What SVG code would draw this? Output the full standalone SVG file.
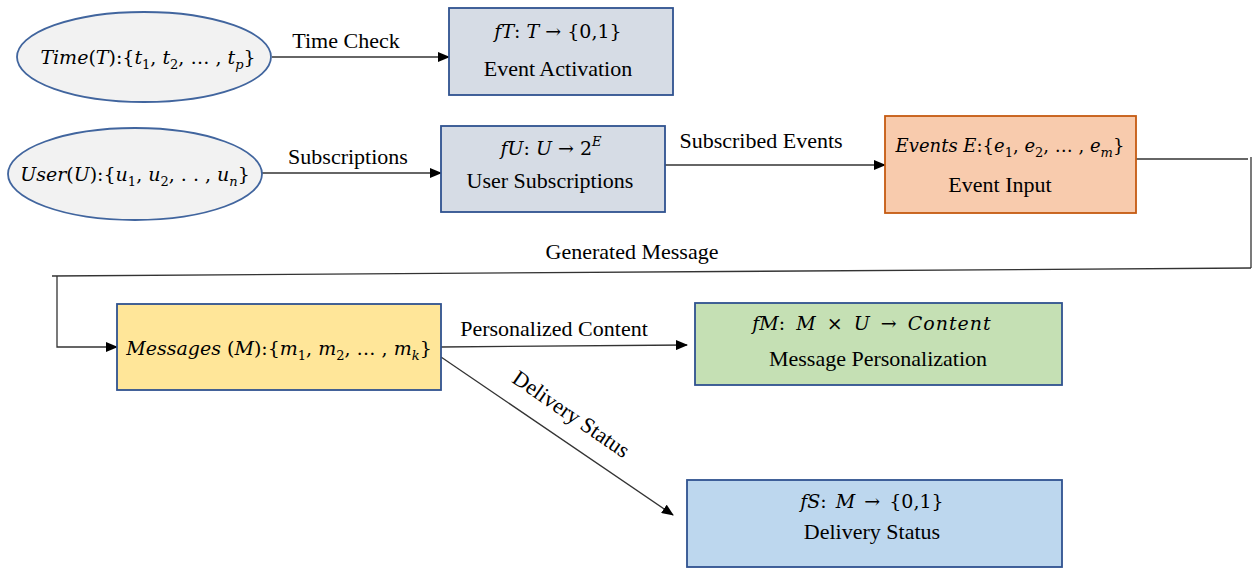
<svg xmlns="http://www.w3.org/2000/svg" width="1253" height="571" viewBox="0 0 1253 571">
<defs>
<marker id="arr" markerWidth="12" markerHeight="10" refX="11" refY="5" orient="auto" markerUnits="userSpaceOnUse">
<path d="M0,0 L12,5 L0,10 Z" fill="#000"/>
</marker>
<style>
.lbl{font-family:"Liberation Serif","Times New Roman",serif;font-size:22px;fill:#000;}
.math{font-family:"DejaVu Serif",serif;font-size:19px;fill:#000;}
.it{font-style:italic;}
.sub{font-size:13px;}
.edge{fill:none;stroke:#333;stroke-width:1.3;}
.ell{fill:#f2f2f2;stroke:#41659e;stroke-width:1.8;}
.bx{stroke:#2f528f;stroke-width:1.8;}
</style>
</defs>
<rect width="1253" height="571" fill="#fff"/>

<g id="connectors">
<line class="edge" x1="272" y1="57" x2="449" y2="57" marker-end="url(#arr)"/>
<text class="lbl" x="346" y="48" text-anchor="middle">Time Check</text>
<line class="edge" x1="262" y1="173" x2="441" y2="173" marker-end="url(#arr)"/>
<text class="lbl" x="348" y="164" text-anchor="middle">Subscriptions</text>
<line class="edge" x1="665" y1="165" x2="885" y2="165" marker-end="url(#arr)"/>
<text class="lbl" x="761" y="148" text-anchor="middle">Subscribed Events</text>
<polyline class="edge" points="1136,159 1248,159"/>
<line class="edge" x1="1251" y1="157" x2="1251" y2="268"/>
<line class="edge" x1="1251" y1="268" x2="52" y2="276"/>
<text class="lbl" x="632" y="259" text-anchor="middle">Generated Message</text>
<polyline class="edge" points="57,276 57,347 117,347" marker-end="url(#arr)"/>
<line class="edge" x1="441" y1="347" x2="687" y2="345" marker-end="url(#arr)"/>
<text class="lbl" x="554" y="336" text-anchor="middle">Personalized Content</text>
<line class="edge" x1="441" y1="357" x2="673" y2="515" marker-end="url(#arr)"/>
<text class="lbl" x="0" y="0" text-anchor="middle" transform="translate(567,420) rotate(34.4)">Delivery Status</text>
</g>

<g id="time">
<ellipse class="ell" cx="144" cy="57" rx="127" ry="45"/>
<text class="math" x="148" y="64" text-anchor="middle"><tspan class="it">Time</tspan>(<tspan class="it">T</tspan>):{<tspan class="it">t</tspan><tspan class="sub" dy="5">1</tspan><tspan dy="-5">, </tspan><tspan class="it">t</tspan><tspan class="sub" dy="5">2</tspan><tspan dy="-5">, … , </tspan><tspan class="it">t</tspan><tspan class="sub it" dy="5">p</tspan><tspan dy="-5">}</tspan></text>
</g>

<g id="user">
<ellipse class="ell" cx="135" cy="174" rx="127" ry="46"/>
<text class="math" x="135" y="181" text-anchor="middle"><tspan class="it">User</tspan>(<tspan class="it">U</tspan>):{<tspan class="it">u</tspan><tspan class="sub" dy="5">1</tspan><tspan dy="-5">, </tspan><tspan class="it">u</tspan><tspan class="sub" dy="5">2</tspan><tspan dy="-5">, . . , </tspan><tspan class="it">u</tspan><tspan class="sub it" dy="5">n</tspan><tspan dy="-5">}</tspan></text>
</g>

<g id="fT">
<rect class="bx" x="449" y="8" width="224" height="87" fill="#d6dce5"/>
<text class="math" x="558" y="38" text-anchor="middle"><tspan class="it">fT</tspan>: <tspan class="it">T</tspan> → {0,1}</text>
<text class="lbl" x="558" y="76" text-anchor="middle">Event Activation</text>
</g>

<g id="fU">
<rect class="bx" x="441" y="126" width="224" height="86" fill="#d6dce5"/>
<text class="math" x="551" y="155" text-anchor="middle"><tspan class="it">fU</tspan>: <tspan class="it">U</tspan> → 2<tspan class="sub it" dy="-9">E</tspan></text>
<text class="lbl" x="550" y="188" text-anchor="middle">User Subscriptions</text>
</g>

<g id="events">
<rect x="885" y="116" width="251" height="97" fill="#f8cbad" stroke="#c55a11" stroke-width="1.8"/>
<text class="math" x="1010" y="152" text-anchor="middle" style="font-size:18px"><tspan class="it">Events E</tspan>:{<tspan class="it">e</tspan><tspan class="sub" dy="5">1</tspan><tspan dy="-5">, </tspan><tspan class="it">e</tspan><tspan class="sub" dy="5">2</tspan><tspan dy="-5">, … , </tspan><tspan class="it">e</tspan><tspan class="sub it" dy="5">m</tspan><tspan dy="-5">}</tspan></text>
<text class="lbl" x="1000" y="192" text-anchor="middle">Event Input</text>
</g>

<g id="messages">
<rect class="bx" x="117" y="304" width="324" height="86" fill="#ffe699"/>
<text class="math" x="279" y="355" text-anchor="middle"><tspan class="it">Messages</tspan> (<tspan class="it">M</tspan>):{<tspan class="it">m</tspan><tspan class="sub" dy="5">1</tspan><tspan dy="-5">, </tspan><tspan class="it">m</tspan><tspan class="sub" dy="5">2</tspan><tspan dy="-5">, … , </tspan><tspan class="it">m</tspan><tspan class="sub it" dy="5">k</tspan><tspan dy="-5">}</tspan></text>
</g>

<g id="fM">
<rect class="bx" x="695" y="303" width="367" height="82" fill="#c5e0b4"/>
<text class="math" x="872" y="330" text-anchor="middle" word-spacing="5"><tspan class="it">fM</tspan>: <tspan class="it">M</tspan> × <tspan class="it">U</tspan> → <tspan class="it" letter-spacing="1">Content</tspan></text>
<text class="lbl" x="878" y="366" text-anchor="middle">Message Personalization</text>
</g>

<g id="fS">
<rect class="bx" x="687" y="480" width="375" height="87" fill="#bdd7ee"/>
<text class="math" x="872" y="508" text-anchor="middle" word-spacing="3"><tspan class="it">fS</tspan>: <tspan class="it">M</tspan> → {0,1}</text>
<text class="lbl" x="872" y="539" text-anchor="middle">Delivery Status</text>
</g>
</svg>
